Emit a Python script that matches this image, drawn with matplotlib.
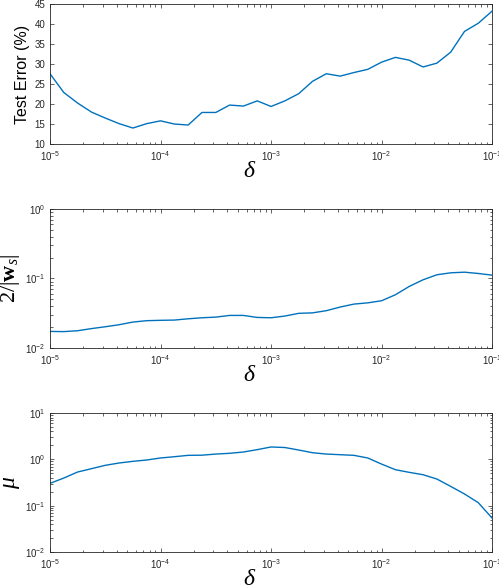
import numpy as np
import matplotlib
matplotlib.use("Agg")
import matplotlib.pyplot as plt
from matplotlib.ticker import FuncFormatter, LogLocator, MultipleLocator

plt.rcParams['font.family'] = ['Liberation Sans', 'DejaVu Sans']
plt.rcParams['mathtext.fontset'] = 'custom'
plt.rcParams['mathtext.rm'] = 'Liberation Serif'
plt.rcParams['mathtext.it'] = 'Liberation Serif:italic'
plt.rcParams['mathtext.bf'] = 'Liberation Serif:bold'
plt.rcParams['mathtext.sf'] = 'Liberation Sans'

# delta sampled every 1/8 decade from 1e-5 to 1e-1
delta_exp = np.arange(33) / 8.0 - 5.0
delta = 10.0 ** delta_exp

test_error = [27.6, 22.9, 20.25, 18.0, 16.5, 15.1, 14.0, 15.1, 15.8, 15.0,
              14.75, 17.9, 17.9, 19.75, 19.5, 20.8, 19.4, 20.8, 22.6, 25.7,
              27.6, 27.0, 27.9, 28.7, 30.5, 31.7, 31.0, 29.3, 30.25, 33.0,
              38.2, 40.25, 43.3]

margin = [0.0173, 0.0172, 0.0177, 0.019, 0.0202, 0.0216, 0.0236, 0.0247,
          0.025, 0.0252, 0.0263, 0.0272, 0.0278, 0.0294, 0.0294, 0.0275,
          0.0272, 0.0288, 0.0315, 0.032, 0.0344, 0.0388, 0.0428, 0.0446,
          0.0478, 0.0583, 0.0768, 0.0957, 0.113, 0.1206, 0.1232, 0.118,
          0.1116]

mu = [0.303, 0.395, 0.533, 0.629, 0.743, 0.834, 0.906, 0.968, 1.07, 1.14,
      1.22, 1.23, 1.30, 1.35, 1.44, 1.62, 1.85, 1.80, 1.59, 1.39, 1.30,
      1.26, 1.22, 1.07, 0.79, 0.598, 0.524, 0.466, 0.376, 0.261, 0.179,
      0.116, 0.054]

line_color = '#0072BD'
edge = '#262626'


def pow_fmt(v, pos):
    return r'$\mathsf{10^{%d}}$' % int(round(np.log10(v)))


def style_axis(ax):
    ax.set_xscale('log')
    ax.set_xlim(1e-5, 1e-1)
    ax.xaxis.set_major_locator(LogLocator(base=10, numticks=10))
    ax.xaxis.set_minor_locator(LogLocator(base=10, subs=np.arange(2, 10), numticks=10))
    ax.xaxis.set_major_formatter(FuncFormatter(pow_fmt))
    ax.tick_params(which='both', direction='in', top=True, right=True,
                   colors=edge, labelsize=7, width=0.5)
    ax.tick_params(which='major', length=3.2)
    ax.tick_params(which='minor', length=1.8)
    for s in ax.spines.values():
        s.set_color(edge)
        s.set_linewidth(0.6)
    ax.set_xlabel(r'$\delta$', fontsize=17, labelpad=-2)
    ax.xaxis.label.set_x(0.452)


fig = plt.figure(figsize=(4.99, 5.87), dpi=100)

ax1 = fig.add_axes([0.1002, 0.7547, 0.886, 0.238])
ax1.plot(delta, test_error, color=line_color, lw=1.0)
style_axis(ax1)
ax1.set_ylim(10, 45)
ax1.yaxis.set_major_locator(MultipleLocator(5))
ax1.set_ylabel('Test Error (%)', fontsize=11.5, labelpad=3)

ax2 = fig.add_axes([0.1002, 0.4072, 0.886, 0.2368])
ax2.plot(delta, margin, color=line_color, lw=1.0)
style_axis(ax2)
ax2.set_yscale('log')
ax2.set_ylim(1e-2, 1e0)
ax2.yaxis.set_major_locator(LogLocator(base=10, numticks=10))
ax2.yaxis.set_minor_locator(LogLocator(base=10, subs=np.arange(2, 10), numticks=10))
ax2.yaxis.set_major_formatter(FuncFormatter(pow_fmt))
ax2.tick_params(axis='y', which='both', direction='in', right=True, colors=edge)
ax2.set_ylabel(r'$2/|\mathbf{w}_s|$', fontsize=16, labelpad=2)

ax3 = fig.add_axes([0.1002, 0.0596, 0.886, 0.2368])
ax3.plot(delta, mu, color=line_color, lw=1.0)
style_axis(ax3)
ax3.set_yscale('log')
ax3.set_ylim(1e-2, 1e1)
ax3.yaxis.set_major_locator(LogLocator(base=10, numticks=10))
ax3.yaxis.set_minor_locator(LogLocator(base=10, subs=np.arange(2, 10), numticks=10))
ax3.yaxis.set_major_formatter(FuncFormatter(pow_fmt))
ax3.tick_params(axis='y', which='both', direction='in', right=True, colors=edge)
ax3.set_ylabel(r'$\mu$', fontsize=17, labelpad=2)

fig.savefig('out.png', dpi=100)
